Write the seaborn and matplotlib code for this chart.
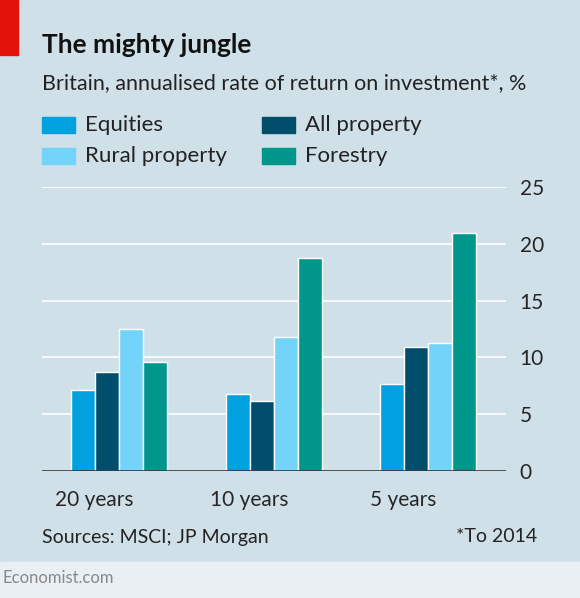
import matplotlib
matplotlib.use("Agg")
import matplotlib.pyplot as plt
import matplotlib.patches as mpatches
import matplotlib.transforms as mtransforms
import seaborn as sns
import pandas as pd

periods = ["20 years", "10 years", "5 years"]
series = ["Equities", "All property", "Rural property", "Forestry"]
equities = [7.1, 6.8, 7.7]
all_property = [8.7, 6.2, 10.9]
rural_property = [12.5, 11.8, 11.3]
forestry = [9.6, 18.75, 20.95]
colors = ["#00a1de", "#004e6c", "#74d3f9", "#00968c"]

rows = []
for name, vals in zip(series, [equities, all_property, rural_property, forestry]):
    for p, v in zip(periods, vals):
        rows.append({"period": p, "series": name, "value": v})
df = pd.DataFrame(rows)

bg = "#d0e0e8"
sns.set_style("white")
plt.rcParams["font.family"] = ["Lato", "DejaVu Sans"]

fig = plt.figure(figsize=(5.8, 5.98), dpi=100)
fig.patch.set_facecolor(bg)
ax = fig.add_axes([0.072, 0.2124, 0.80, 0.4746])
ax.set_facecolor(bg)
sns.barplot(data=df, x="period", y="value", hue="series", palette=colors,
            width=0.62, gap=0, ax=ax, legend=False, saturation=1)
ax.set_xlim(-0.5, 2.5)
ax.set_ylim(0, 25)
ax.set_yticks(range(0, 26, 5))
ax.yaxis.tick_right()
ax.tick_params(axis="y", length=0, labelsize=15, pad=10)
ax.tick_params(axis="x", length=0, labelsize=15, pad=14)
ax.grid(axis="y", color="white", linewidth=1.2)
ax.set_axisbelow(True)
for s in ax.spines.values():
    s.set_visible(False)
ax.axhline(0, color="#333333", linewidth=1.2)
ax.set_xlabel("")
ax.set_ylabel("")
for lab in ax.get_yticklabels():
    lab.set_horizontalalignment("left")
shift = mtransforms.ScaledTranslation(-25 / 100, 0, fig.dpi_scale_trans)
for lab in ax.get_xticklabels():
    lab.set_transform(lab.get_transform() + shift)

# header
fig.add_artist(mpatches.Rectangle((0, 1 - 55 / 598), 18 / 580, 55 / 598,
                                  transform=fig.transFigure, color="#e3120b"))
fig.text(42 / 580, 1 - 45 / 598, "The mighty jungle", fontsize=19, fontweight="bold",
         va="center", color="#111111")
fig.text(42 / 580, 1 - 83 / 598, "Britain, annualised rate of return on investment*, %",
         fontsize=15.5, va="center", color="#222222")

# legend
leg_pos = [(42, 125), (262, 125), (42, 156), (262, 156)]
for (x, y), name, c in zip(leg_pos, series, colors):
    fig.add_artist(mpatches.Rectangle((x / 580, 1 - (y + 8) / 598), 33 / 580, 16 / 598,
                                      transform=fig.transFigure, color=c))
    fig.text((x + 43) / 580, 1 - y / 598, name, fontsize=16, va="center", color="#222222")

# footer
fig.text(42 / 580, 1 - 537 / 598, "Sources: MSCI; JP Morgan", fontsize=14, va="center", color="#222222")
fig.text(537 / 580, 1 - 537 / 598, "*To 2014", fontsize=14, va="center", ha="right", color="#222222")
fig.add_artist(mpatches.Rectangle((0, 0), 1, 36 / 598, transform=fig.transFigure, color="#e9eff2"))
fig.text(2 / 580, 1 - 578 / 598, "Economist.com", fontsize=12, va="center", color="#888888")

fig.savefig("out.png", dpi=100, facecolor=bg)
